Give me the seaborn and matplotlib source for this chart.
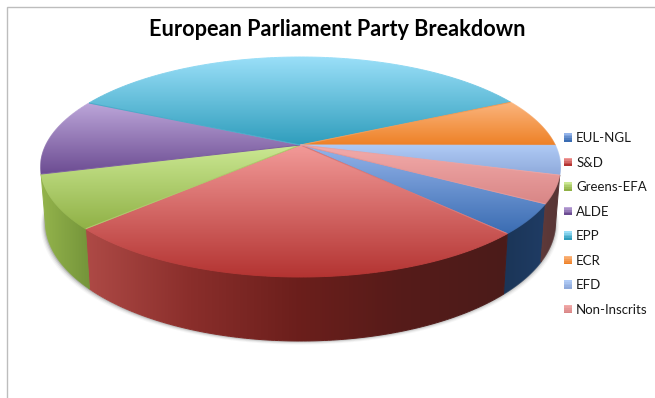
import numpy as np
import matplotlib
matplotlib.use("Agg")
import matplotlib.pyplot as plt
from matplotlib.collections import LineCollection
from matplotlib.legend_handler import HandlerBase
from matplotlib.patches import Polygon, Patch, Rectangle
import seaborn as sns

parties = ["EUL-NGL", "S&D", "Greens-EFA", "ALDE", "EPP", "ECR", "EFD", "Non-Inscrits"]
shares = [4.4, 25.2, 7.8, 11.3, 35.6, 7.3, 4.3, 4.0]

top_light = ["#94B4EA", "#F29A98", "#CBE893", "#BDA7DA", "#9ADFF8", "#FBB67F", "#B0CBF6", "#F3ABAA"]
top_dark = ["#3A6CB2", "#B43432", "#90B146", "#6C4C92", "#2F9DBC", "#EE8127", "#8FAADB", "#D88686"]
wall_stops = {
    "EUL-NGL": ["#1B3557", "#1F3C64"],
    "S&D": ["#AE4A46", "#8A2E2B", "#6C1F1C", "#561B19", "#4B1C1A"],
    "Greens-EFA": ["#94B44C", "#74943A"],
    "Non-Inscrits": ["#5E3A3A", "#573434"],
}

sns.set_theme(style="white")
plt.rcParams["font.family"] = ["Lato", "DejaVu Sans"]

fig = plt.figure(figsize=(6.55, 3.98), dpi=100, facecolor="white")
ax = fig.add_axes([0, 0, 1, 1])
ax.set_xlim(0, 655)
ax.set_ylim(398, 0)
ax.axis("off")

# Tilted disc: a projective map of the unit circle, with the near side enlarged.
TILT = 0.2
START_ANGLE = -30.1
WALL_FROM, WALL_TO = -165.0, -15.6


def project(theta, radius, cx, cy, ax_x, ax_y):
    x = radius * np.cos(theta)
    y = radius * np.sin(theta)
    w = 1 + TILT * y
    return cx + ax_x * x / w, cy - ax_y * y / w


def top_rim(theta, radius=1.0):
    return project(theta, radius, 300.5, 145.0, 254.7, 105.6)


def bottom_rim(theta, radius=1.0):
    return project(theta, radius, 300.5, 198.5, 250.0, 114.0)


def shaded(xs, ys, cmap, horizontal, zorder):
    """Fill a polygon with a linear gradient and stroke it for a smooth edge."""
    pts = np.column_stack([xs, ys])
    x0, x1, y0, y1 = xs.min(), xs.max(), ys.min(), ys.max()
    ramp = np.linspace(0, 1, 256)
    grad = ramp[None, :] if horizontal else ramp[:, None]
    patch = Polygon(pts, closed=True, transform=ax.transData, fc="none", ec="none")
    ax.add_patch(patch)
    im = ax.imshow(grad, cmap=cmap, vmin=0, vmax=1, extent=(x0, x1, y1, y0),
                   aspect="auto", interpolation="bilinear", zorder=zorder)
    im.set_clip_path(patch)
    closed = np.vstack([pts, pts[:1]])
    segs = np.stack([closed[:-1], closed[1:]], axis=1)
    mids = segs.mean(axis=1)
    pos = (mids[:, 0] - x0) / (x1 - x0) if horizontal else (mids[:, 1] - y0) / (y1 - y0)
    ax.add_collection(LineCollection(segs, colors=cmap(pos), linewidths=0.7, zorder=zorder))


spans = np.array(shares) / sum(shares) * 360
edges = START_ANGLE - np.concatenate([[0], np.cumsum(spans)])

# Soft shadow under the near edge of the disc.
sweep = np.radians(np.linspace(175, 365, 240))
for grow, alpha in [(4.0, 0.05), (3.0, 0.08), (2.0, 0.14), (1.0, 0.22)]:
    sx, sy = bottom_rim(sweep)
    ax.add_patch(Polygon(
        np.column_stack([300.5 + (sx - 300.5) * (1 + grow / 260) - 0.5,
                         sy + grow * 0.9]),
        closed=True, fc="#555555", ec="none", alpha=alpha, zorder=1))

# Outer wall, only where the rim faces the viewer.
for i, name in enumerate(parties):
    first = (edges[i] + 180) % 360 - 180
    last = first - spans[i]
    hi, lo = min(first, WALL_TO), max(last, WALL_FROM)
    if name not in wall_stops or hi - lo < 1:
        continue
    th = np.radians(np.linspace(lo, hi, 120))
    tx, ty = top_rim(th)
    bx, by = bottom_rim(th)
    wall_cmap = sns.blend_palette(wall_stops[name], 64, as_cmap=True)
    shaded(np.concatenate([tx, bx[::-1]]), np.concatenate([ty, by[::-1]]),
           wall_cmap, True, 2)

# Upper face, one gradient per slice.
for i in range(len(parties)):
    th = np.radians(np.linspace(edges[i], edges[i + 1], 120))
    rx, ry = top_rim(th)
    hub_x, hub_y = top_rim(np.array([0.0]), 0.0)
    face_cmap = sns.blend_palette([top_light[i], top_dark[i]], 64, as_cmap=True)
    shaded(np.concatenate([hub_x, rx]), np.concatenate([hub_y, ry]), face_cmap, False, 3)

ax.set_xlim(0, 655)
ax.set_ylim(398, 0)

# Chart frame: only the top and left rules fall inside the canvas.
ax.plot([6.5, 6.5, 655], [398, 6.5, 6.5], color="#BDBDBD", lw=1.0, zorder=0,
        solid_joinstyle="miter")

ax.text(337, 30, "European Parliament Party Breakdown", ha="center", va="center",
        fontsize=15.55, fontweight="bold", color="black")


class GradientSwatch(HandlerBase):
    def create_artists(self, legend, orig, xd, yd, width, height, fontsize, trans):
        light, dark = orig.get_gid().split("|")
        colors = sns.blend_palette([light, dark], 5)
        strip = height / 5
        return [Rectangle((-xd, -yd + height - (k + 1) * strip), width, strip * 1.05,
                          fc=c, ec="none", transform=trans)
                for k, c in enumerate(colors)]


handles = []
for name, light, dark in zip(parties, top_light, top_dark):
    h = Patch(label=name)
    h.set_gid(f"{light}|{dark}")
    handles.append(h)

ax.legend(handles=handles, handler_map={Patch: GradientSwatch()},
          loc="upper left", bbox_to_anchor=(563.5 / 655, 1 - 132 / 398),
          bbox_transform=ax.transAxes, frameon=False, fontsize=9.5,
          labelcolor="#1a1a1a", handlelength=0.62, handleheight=0.62,
          handletextpad=0.33, labelspacing=0.95, borderpad=0, borderaxespad=0)

fig.savefig("out.png", dpi=100, facecolor="white")
